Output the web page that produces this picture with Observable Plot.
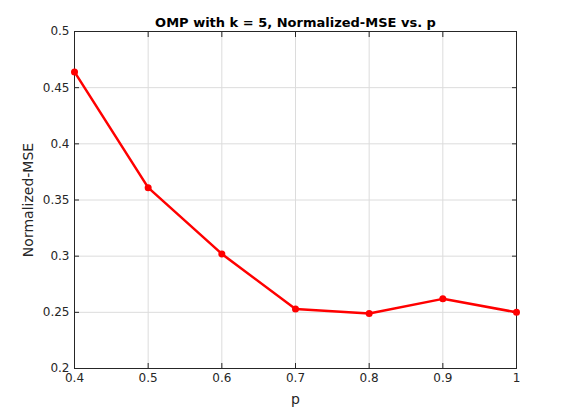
<!DOCTYPE html>
<html><head>
<script src="https://cdn.jsdelivr.net/npm/d3@7"></script>
<script src="https://cdn.jsdelivr.net/npm/@observablehq/plot@0.6"></script>
<style>body{margin:0;background:#fff;font-family:"DejaVu Sans",sans-serif}</style>
</head><body><div id="c"></div>
<script>
const pValues = [0.4, 0.5, 0.6, 0.7, 0.8, 0.9, 1.0];
const nmse = [0.464, 0.361, 0.302, 0.253, 0.249, 0.262, 0.250];
const xTicks = [0.4, 0.5, 0.6, 0.7, 0.8, 0.9, 1];
const yTicks = [0.2, 0.25, 0.3, 0.35, 0.4, 0.45, 0.5];
const data = pValues.map((p, i) => ({p, v: nmse[i]}));
const chart = Plot.plot({
  width: 570, height: 413,
  marginLeft: 74, marginRight: 54, marginTop: 31, marginBottom: 45,
  style: {fontFamily: "DejaVu Sans, sans-serif", fontSize: "12px", background: "#fff", color: "#262626"},
  x: {domain: [0.4, 1]},
  y: {domain: [0.2, 0.5]},
  marks: [
    Plot.gridX(xTicks, {stroke: "#dcdcdc", strokeOpacity: 1}),
    Plot.gridY(yTicks, {stroke: "#dcdcdc", strokeOpacity: 1}),
    Plot.frame({stroke: "#262626"}),
    Plot.axisX(xTicks, {tickSize: -5, tickPadding: 10, label: null, tickFormat: d => String(+d.toFixed(2))}),
    Plot.axisX(xTicks, {anchor: "top", tickSize: -5, tickFormat: () => "", label: null}),
    Plot.axisY(yTicks, {tickSize: -5, tickPadding: 10, label: null, tickFormat: d => String(+d.toFixed(2))}),
    Plot.axisY(yTicks, {anchor: "right", tickSize: -5, tickFormat: () => "", label: null}),
    Plot.line(data, {x: "p", y: "v", stroke: "#ff0000", strokeWidth: 2.5}),
    Plot.dot(data, {x: "p", y: "v", fill: "#ff0000", r: 3.5}),
    Plot.text(["OMP with k = 5, Normalized-MSE vs. p"], {frameAnchor: "top", dy: -14, fontWeight: "bold", fontSize: 13, fill: "#000"}),
    Plot.text(["p"], {frameAnchor: "bottom", dy: 35, fontSize: 14, fill: "#262626"}),
    Plot.text(["Normalized-MSE"], {frameAnchor: "left", textAnchor: "middle", dx: -46, rotate: -90, fontSize: 14, fill: "#262626"})
  ]
});
document.getElementById("c").append(chart);
</script></body></html>
